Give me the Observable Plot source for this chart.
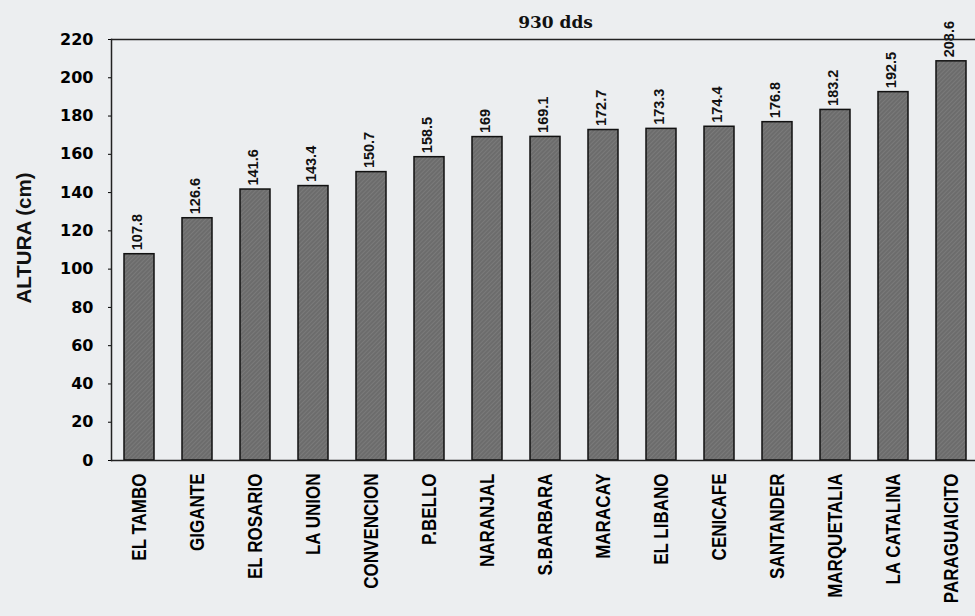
<!DOCTYPE html>
<html>
<head>
<meta charset="utf-8">
<script src="https://cdn.jsdelivr.net/npm/d3@7"></script>
<script src="https://cdn.jsdelivr.net/npm/@observablehq/plot@0.6"></script>
<style>
  html, body { margin: 0; padding: 0; background: #eceef0; }
  #chart svg { display: block; }
</style>
</head>
<body>
<svg width="0" height="0" style="position:absolute">
  <defs>
    <pattern id="hatch" patternUnits="userSpaceOnUse" width="3" height="3" patternTransform="rotate(45)">
      <rect width="3" height="3" fill="#6c6c6c"></rect>
      <line x1="0" y1="0" x2="0" y2="3" stroke="#878787" stroke-width="1"></line>
    </pattern>
  </defs>
</svg>
<div id="chart"></div>
<script>
const localidades = ["EL TAMBO", "GIGANTE", "EL ROSARIO", "LA UNION", "CONVENCION", "P.BELLO", "NARANJAL", "S.BARBARA", "MARACAY", "EL LIBANO", "CENICAFE", "SANTANDER", "MARQUETALIA", "LA CATALINA", "PARAGUAICITO"];
const altura = [107.8, 126.6, 141.6, 143.4, 150.7, 158.5, 169, 169.1, 172.7, 173.3, 174.4, 176.8, 183.2, 192.5, 208.6];
const yTicks = [0, 20, 40, 60, 80, 100, 120, 140, 160, 180, 200, 220];
const titulo = "930 dds";
const yLabel = "ALTURA (cm)";

const data = localidades.map((loc, i) => ({loc, alt: altura[i]}));
const sans = "'Liberation Sans', Arial, sans-serif";

const chart = Plot.plot({
  width: 975,
  height: 616,
  marginLeft: 111,
  marginRight: 0,
  marginTop: 39,
  marginBottom: 156,
  style: {background: "transparent", color: "#000"},
  x: {domain: localidades, padding: 0, range: [107.5, 982.5], label: null},
  y: {domain: [0, 220], label: null},
  marks: [
    Plot.barY(data, {x: "loc", y: "alt", fill: "url(#hatch)", stroke: "#111", strokeWidth: 1.5, insetLeft: 14, insetRight: 14}),
    Plot.text(data, {x: "loc", y: "alt", text: "alt", rotate: -90, textAnchor: "start", dy: -4, dx: -2, fontSize: 14.5, fontWeight: "bold", fontFamily: sans, fill: "#111"}),
    Plot.axisY({ticks: yTicks, tickSize: 3, tickPadding: 15, fontSize: 16, fontWeight: "bold", fontFamily: "'DejaVu Sans', sans-serif", label: null}),
    Plot.axisX({tickSize: 0, tickPadding: 13, tickRotate: -90, fontSize: 21, fontWeight: "bold", fontFamily: sans, label: null}),
    Plot.text([yLabel], {frameAnchor: "left", textAnchor: "middle", lineAnchor: "middle", dx: -87, dy: -12, rotate: -90, fontSize: 20.5, fontWeight: "bold", fontFamily: sans, fill: "#111"}),
    Plot.text([titulo], {frameAnchor: "top", textAnchor: "middle", lineAnchor: "middle", dy: -17, dx: 12, fontSize: 17, fontWeight: "bold", fontFamily: "'DejaVu Serif', serif", fill: "#111"}),
    Plot.ruleY([0, 220], {stroke: "#222", strokeWidth: 1.5}),
    Plot.frame({anchor: "left", stroke: "#222", strokeWidth: 1.5})
  ]
});
// condense the rotated category labels along their length, as in the scanned original
d3.select(chart).selectAll('g[aria-label="x-axis tick label"] text')
  .attr("transform", function() { return (this.getAttribute("transform") || "") + " scale(0.81,1)"; });
document.getElementById("chart").appendChild(chart);
</script>
</body>
</html>
